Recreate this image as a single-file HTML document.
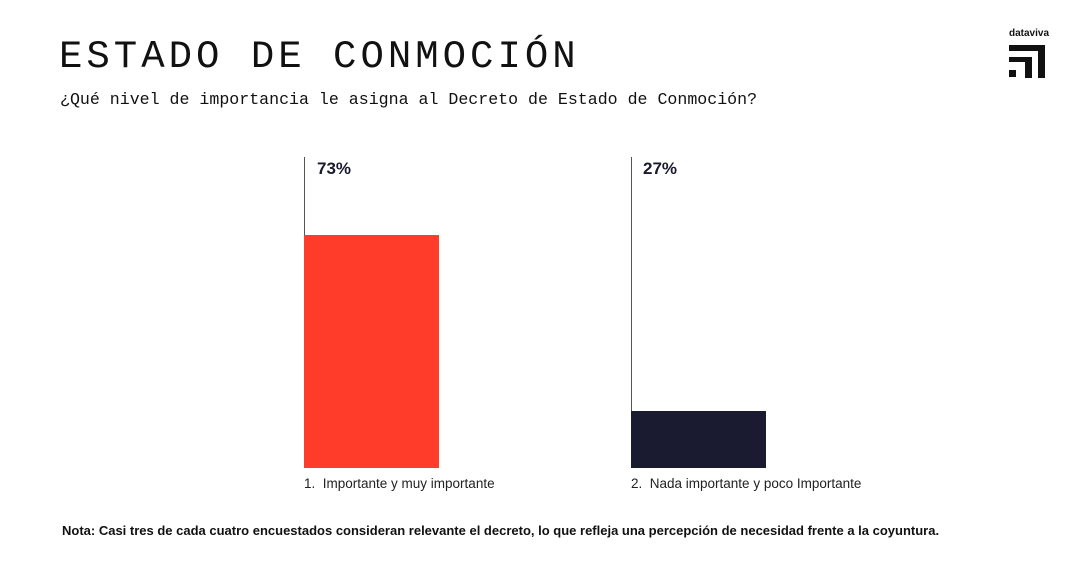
<!DOCTYPE html>
<html><head><meta charset="utf-8"><style>
body{margin:0;width:1086px;height:585px;background:#fff;position:relative;overflow:hidden;font-family:"Liberation Sans",sans-serif}
.a{position:absolute}
.mono{font-family:"Liberation Mono","DejaVu Sans Mono",monospace;color:#111}
</style></head><body>
<div class="a mono" style="left:59px;top:34px;font-size:39px;letter-spacing:4px;line-height:46px">ESTADO DE CONMOCIÓN</div>
<div class="a mono" style="left:60px;top:90px;font-size:16.6px;line-height:20px">¿Qué nivel de importancia le asigna al Decreto de Estado de Conmoción?</div>
<div class="a" style="left:1009px;top:28px;font-size:10px;font-weight:bold;color:#111">dataviva</div>
<div class="a" style="left:1009px;top:45px;width:36px;height:6px;background:#111"></div>
<div class="a" style="left:1038px;top:45px;width:7px;height:33px;background:#111"></div>
<div class="a" style="left:1009px;top:57px;width:23px;height:5px;background:#111"></div>
<div class="a" style="left:1025px;top:57px;width:7px;height:21px;background:#111"></div>
<div class="a" style="left:1009px;top:70px;width:7px;height:7px;background:#111"></div>

<div class="a" style="left:304px;top:157px;width:1px;height:78px;background:#555"></div>
<div class="a" style="left:304px;top:235px;width:135px;height:233px;background:#ff3b2a"></div>
<div class="a" style="left:317px;top:159px;font-size:17px;font-weight:bold;color:#1a1a2e">73%</div>
<div class="a" style="left:304px;top:476px;font-size:13.5px;color:#222">1.&nbsp; Importante y muy importante</div>

<div class="a" style="left:631px;top:157px;width:1px;height:254px;background:#555"></div>
<div class="a" style="left:631px;top:411px;width:135px;height:57px;background:#1a1a30"></div>
<div class="a" style="left:643px;top:159px;font-size:17px;font-weight:bold;color:#1a1a2e">27%</div>
<div class="a" style="left:631px;top:476px;font-size:13.5px;color:#222">2.&nbsp; Nada importante y poco Importante</div>

<div class="a" style="left:62px;top:523px;font-size:13px;font-weight:bold;color:#111">Nota: Casi tres de cada cuatro encuestados consideran relevante el decreto, lo que refleja una percepción de necesidad frente a la coyuntura.</div>
</body></html>
